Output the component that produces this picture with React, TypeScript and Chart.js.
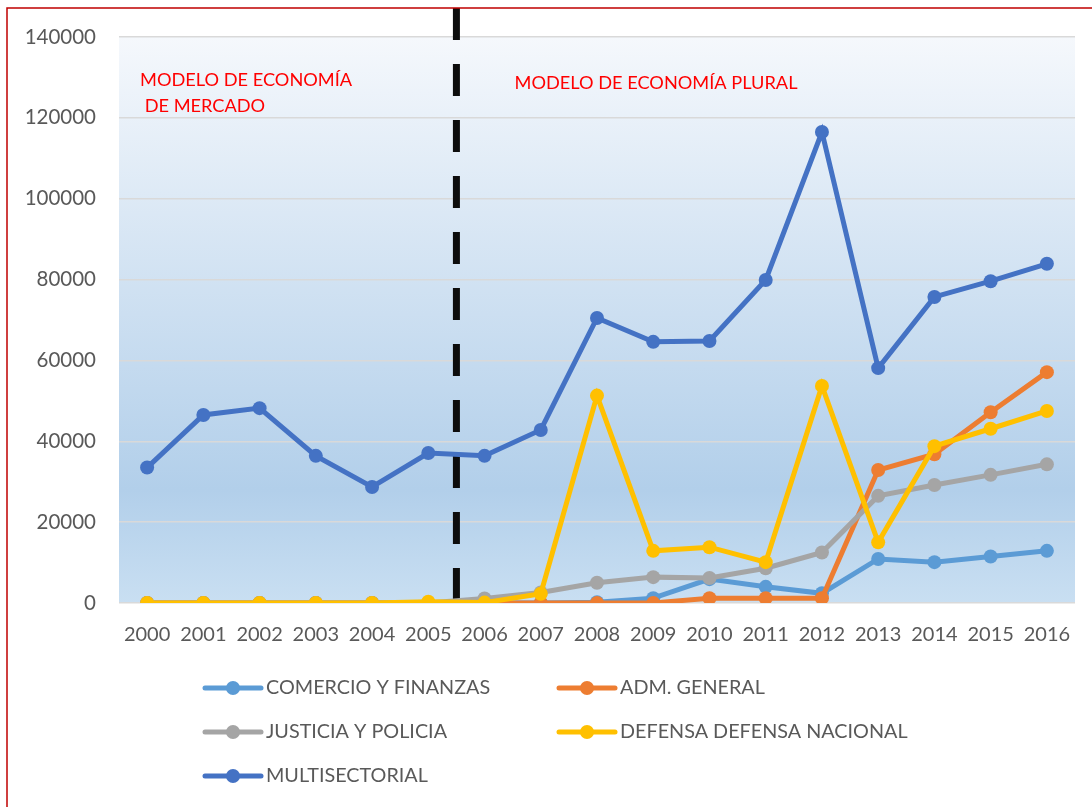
import React, { useEffect, useRef } from "react";
import { Chart, registerables } from "chart.js";

Chart.register(...registerables);

const years = ["2000","2001","2002","2003","2004","2005","2006","2007","2008","2009","2010","2011","2012","2013","2014","2015","2016"];

const comercio = [0, 0, 0, 0, 0, 0, 0, 0, 200, 1200, 5900, 4000, 2400, 10900, 10100, 11500, 12900];
const admGeneral = [0, 0, 0, 0, 0, 0, 0, 0, 0, 0, 1200, 1200, 1200, 32900, 36800, 47200, 57100];
const justicia = [0, 0, 0, 0, 0, 0, 1100, 2600, 5000, 6400, 6200, 8600, 12500, 26500, 29200, 31700, 34300];
const defensa = [0, 0, 0, 0, 0, 300, 100, 2300, 51300, 12900, 13800, 10100, 53700, 15000, 38800, 43100, 47500];
const multisectorial = [33500, 46500, 48200, 36400, 28700, 37100, 36400, 42800, 70500, 64600, 64800, 79900, 116500, 58100, 75700, 79600, 83900];

const seriesNames = ["COMERCIO Y FINANZAS", "ADM. GENERAL", "JUSTICIA Y POLICIA", "DEFENSA DEFENSA NACIONAL", "MULTISECTORIAL"];
const seriesColors = ["#5B9BD5", "#ED7D31", "#A5A5A5", "#FFC000", "#4472C4"];
const seriesValues = [comercio, admGeneral, justicia, defensa, multisectorial];

const yTicks = [0, 20000, 40000, 60000, 80000, 100000, 120000, 140000];
const annotationLeft = ["MODELO DE ECONOMÍA", " DE MERCADO"];
const annotationRight = "MODELO DE ECONOMÍA PLURAL";

const FONT = "Lato, 'Open Sans', sans-serif";
const GRAY = "#595959";

const decorPlugin = {
  id: "decor",
  beforeDraw(chart: any) {
    const { ctx, chartArea } = chart;
    const g = ctx.createLinearGradient(0, chartArea.top, 0, chartArea.bottom);
    g.addColorStop(0, "#f5f8fc");
    g.addColorStop(0.8, "#b2cfea");
    g.addColorStop(1, "#c9dff2");
    ctx.save();
    ctx.fillStyle = g;
    ctx.fillRect(chartArea.left, chartArea.top, chartArea.right - chartArea.left, chartArea.bottom - chartArea.top);
    ctx.restore();
  },
  beforeDatasetsDraw(chart: any) {
    const { ctx, chartArea } = chart;
    const xs = chart.scales.x;
    const x = (xs.getPixelForValue(5) + xs.getPixelForValue(6)) / 2;
    ctx.save();
    ctx.strokeStyle = "#0d0d0d";
    ctx.lineWidth = 7;
    ctx.setLineDash([32, 24]);
    ctx.beginPath();
    ctx.moveTo(x, 8);
    ctx.lineTo(x, chartArea.bottom - 3);
    ctx.stroke();
    ctx.restore();
  },
  afterDraw(chart: any) {
    const { ctx, chartArea } = chart;
    ctx.save();
    // border
    ctx.strokeStyle = "#c00000";
    ctx.lineWidth = 1.5;
    ctx.beginPath();
    ctx.moveTo(7, 807);
    ctx.lineTo(7, 8);
    ctx.lineTo(1092, 8);
    ctx.stroke();

    // annotations
    ctx.fillStyle = "#ff0000";
    ctx.font = "18.2px " + FONT;
    ctx.textBaseline = "middle";
    ctx.textAlign = "left";
    ctx.fillText(annotationLeft[0], chartArea.left + 21, 80);
    ctx.fillText(annotationLeft[1], chartArea.left + 21, 106);
    const xs = chart.scales.x;
    ctx.fillText(annotationRight, xs.getPixelForValue(6) + 30, 83);

    // legend
    const cols = [205, 559];
    const rows = [688, 732, 776];
    ctx.font = "19.8px " + FONT;
    for (let i = 0; i < seriesNames.length; i++) {
      const cx = cols[i % 2];
      const cy = rows[Math.floor(i / 2)];
      ctx.strokeStyle = seriesColors[i];
      ctx.lineWidth = 5;
      ctx.lineCap = "round";
      ctx.beginPath();
      ctx.moveTo(cx, cy);
      ctx.lineTo(cx + 56, cy);
      ctx.stroke();
      ctx.fillStyle = seriesColors[i];
      ctx.beginPath();
      ctx.arc(cx + 28, cy, 7, 0, Math.PI * 2);
      ctx.fill();
      ctx.fillStyle = GRAY;
      ctx.fillText(seriesNames[i], cx + 61, cy);
    }
    ctx.restore();
  },
};

export default function App() {
  const ref = useRef<HTMLCanvasElement | null>(null);
  useEffect(() => {
    if (!ref.current) return;
    const chart = new Chart(ref.current, {
      type: "line",
      data: {
        labels: years,
        datasets: seriesNames.map((name, i) => ({
          label: name,
          data: seriesValues[i],
          borderColor: seriesColors[i],
          backgroundColor: seriesColors[i],
          borderWidth: 5,
          pointRadius: 7,
          pointBorderWidth: 0,
          pointBackgroundColor: seriesColors[i],
          tension: 0,
          order: seriesNames.length - i,
        })),
      },
      options: {
        animation: false,
        responsive: false,
        layout: { padding: { left: 0, right: 17, top: 37, bottom: 0 } },
        plugins: { legend: { display: false }, tooltip: { enabled: false } },
        scales: {
          x: {
            offset: true,
            grid: { display: false, drawTicks: false },
            border: { display: false },
            ticks: { color: GRAY, font: { family: FONT, size: 20 }, padding: 20, maxRotation: 0, autoSkip: false },
            afterFit: (s: any) => { s.height = 204; },
          },
          y: {
            min: 0,
            max: 140000,
            afterBuildTicks: (s: any) => { s.ticks = yTicks.map((v) => ({ value: v })); },
            grid: { color: "#d9d9d9", lineWidth: 1.5, drawTicks: false },
            border: { display: false },
            ticks: { color: GRAY, font: { family: FONT, size: 20.5 }, padding: 23, callback: (v: any) => String(v) },
            afterFit: (s: any) => { s.width = 119; },
          },
        },
      },
      plugins: [decorPlugin],
    });
    return () => chart.destroy();
  }, []);
  return (
    <div style={{ position: "absolute", left: 0, top: 0, width: 1092, height: 807, background: "#fff" }}>
      <canvas ref={ref} width={1092} height={807} style={{ display: "block" }} />
    </div>
  );
}
